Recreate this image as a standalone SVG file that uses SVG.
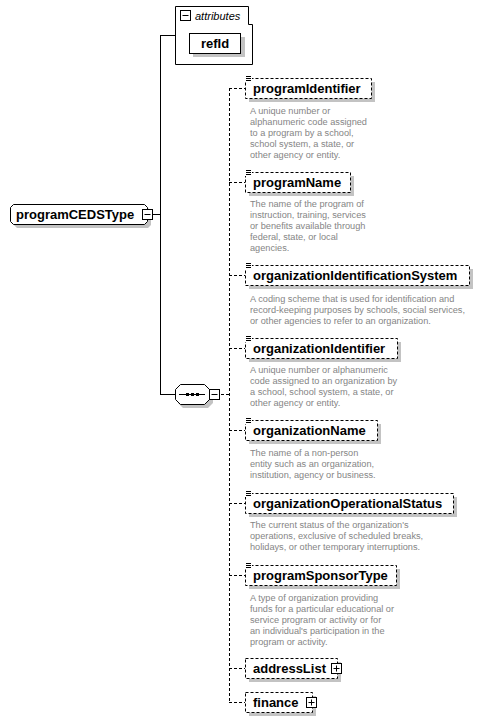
<svg xmlns="http://www.w3.org/2000/svg" width="483" height="721" viewBox="0 0 483 721">
<style>
.bg{fill:#fff}
.sh{fill:#c3c3c3}
.box{fill:#fff;stroke:#000;stroke-width:1}
.dbox{fill:#fff;stroke:#000;stroke-width:1;stroke-dasharray:3,2}
.ln{fill:none;stroke:#000;stroke-width:1}
.dl{fill:none;stroke:#000;stroke-width:1;stroke-dasharray:3,2}
.nm{font-family:"Liberation Sans",Arial,sans-serif;font-weight:bold;font-size:13px;fill:#000}
.ds{font-family:"Liberation Sans",Arial,sans-serif;font-size:9.2px;fill:#858585}
.it{font-family:"Liberation Sans",Arial,sans-serif;font-style:italic;font-size:11px;fill:#000}
</style>
<defs>
<g id="minus"><rect x="1" y="1" width="10" height="10" fill="#000"/><rect x="0.5" y="0.5" width="10" height="10" class="box"/><path d="M2.5,5.5H8.5" class="ln"/></g>
<g id="plus"><rect x="1" y="1" width="10" height="10" fill="#000"/><rect x="0.5" y="0.5" width="10" height="10" class="box"/><path d="M2.5,5.5H8.5M5.5,2.5V8.5" class="ln"/></g>
<g id="elicon"><rect x="0" y="0" width="7" height="7" fill="#fff"/><path d="M1,1.5H6M1,3.5H6M1,5.5H6" class="ln"/></g>
</defs>
<rect width="483" height="721" class="bg"/>

<g id="connectors">
<path d="M160.5,35V394.5" class="ln"/>
<path d="M160,35.5H175" class="ln"/>
<path d="M153,214.5H160" class="ln"/>
<path d="M160,394.5H175" class="ln"/>
<path d="M221,394.5H229" class="dl"/>
<path d="M229.5,88V702" class="dl"/>
<path d="M229,88.5H245" class="dl"/>
<path d="M229,182.5H245" class="dl"/>
<path d="M229,275.5H245" class="dl"/>
<path d="M229,348.5H245" class="dl"/>
<path d="M229,430.5H245" class="dl"/>
<path d="M229,503.5H245" class="dl"/>
<path d="M229,575.5H245" class="dl"/>
<path d="M229,668.5H245" class="dl"/>
<path d="M229,702.5H245" class="dl"/>
</g>

<g id="attributes">
<path d="M175.5,6.5H248.5V24.5H252.5V64.5H175.5Z" class="box"/>
<use href="#minus" x="180" y="10"/>
<text x="195" y="20" class="it">attributes</text>
</g>
<g id="refId">
<rect x="193" y="37" width="52" height="20" class="sh"/>
<rect x="189.5" y="33.5" width="51" height="20" class="box"/>
<text x="215" y="48" class="nm" text-anchor="middle">refId</text>
</g>

<g id="programCEDSType">
<path d="M17,208H148L151,211V225L148,228H17L14,225V211Z" class="sh"/>
<path d="M13.5,204.5H144.5L147.5,207.5V221.5L144.5,224.5H13.5L10.5,221.5V207.5Z" class="box"/>
<text x="16" y="219" class="nm">programCEDSType</text>
<use href="#minus" x="142" y="209"/>
</g>

<g id="sequence">
<path d="M183,388H208L213,393V403L208,408H183L178,403V393Z" class="sh"/>
<path d="M180.5,384.5H204.5L209.5,389.5V399.5L204.5,404.5H180.5L175.5,399.5V389.5Z" class="box"/>
<path d="M179,394.5H205" class="ln"/>
<path d="M186,393h3v3h-3zM191,393h3v3h-3zM196,393h3v3h-3z" fill="#000"/>
<use href="#minus" x="209" y="389"/>
</g>

<g id="programIdentifier">
<rect x="249" y="82" width="126" height="20" class="sh"/>
<rect x="245.5" y="78.5" width="126" height="20" class="dbox"/>
<use href="#elicon" x="245" y="75"/>
<text x="253" y="93" class="nm">programIdentifier</text>
<text class="ds"><tspan x="250" y="114">A unique number or</tspan><tspan x="250" y="125">alphanumeric code assigned</tspan><tspan x="250" y="136">to a program by a school,</tspan><tspan x="250" y="147">school system, a state, or</tspan><tspan x="250" y="158">other agency or entity.</tspan></text>
</g>

<g id="programName">
<rect x="249" y="176" width="105" height="20" class="sh"/>
<rect x="245.5" y="172.5" width="105" height="20" class="dbox"/>
<use href="#elicon" x="245" y="169"/>
<text x="253" y="187" class="nm">programName</text>
<text class="ds"><tspan x="250" y="207">The name of the program of</tspan><tspan x="250" y="218">instruction, training, services</tspan><tspan x="250" y="229">or benefits available through</tspan><tspan x="250" y="240">federal, state, or local</tspan><tspan x="250" y="251">agencies.</tspan></text>
</g>

<g id="organizationIdentificationSystem">
<rect x="249" y="269" width="224" height="20" class="sh"/>
<rect x="245.5" y="265.5" width="224" height="20" class="dbox"/>
<use href="#elicon" x="245" y="262"/>
<text x="253" y="280" class="nm">organizationIdentificationSystem</text>
<text class="ds"><tspan x="250" y="301.5">A coding scheme that is used for identification and</tspan><tspan x="250" y="312.5">record-keeping purposes by schools, social services,</tspan><tspan x="250" y="323.5">or other agencies to refer to an organization.</tspan></text>
</g>

<g id="organizationIdentifier">
<rect x="249" y="342" width="152" height="20" class="sh"/>
<rect x="245.5" y="338.5" width="152" height="20" class="dbox"/>
<use href="#elicon" x="245" y="335"/>
<text x="253" y="353" class="nm">organizationIdentifier</text>
<text class="ds"><tspan x="250" y="372.5">A unique number or alphanumeric</tspan><tspan x="250" y="383.5">code assigned to an organization by</tspan><tspan x="250" y="394.5">a school, school system, a state, or</tspan><tspan x="250" y="405.5">other agency or entity.</tspan></text>
</g>

<g id="organizationName">
<rect x="249" y="424" width="132" height="20" class="sh"/>
<rect x="245.5" y="420.5" width="132" height="20" class="dbox"/>
<use href="#elicon" x="245" y="417"/>
<text x="253" y="435" class="nm">organizationName</text>
<text class="ds"><tspan x="250" y="455.5">The name of a non-person</tspan><tspan x="250" y="466.5">entity such as an organization,</tspan><tspan x="250" y="477.5">institution, agency or business.</tspan></text>
</g>

<g id="organizationOperationalStatus">
<rect x="249" y="497" width="208" height="20" class="sh"/>
<rect x="245.5" y="493.5" width="208" height="20" class="dbox"/>
<use href="#elicon" x="245" y="490"/>
<text x="253" y="508" class="nm">organizationOperationalStatus</text>
<text class="ds"><tspan x="250" y="527.5">The current status of the organization's</tspan><tspan x="250" y="538.5">operations, exclusive of scheduled breaks,</tspan><tspan x="250" y="549.5">holidays, or other temporary interruptions.</tspan></text>
</g>

<g id="programSponsorType">
<rect x="249" y="569" width="151" height="20" class="sh"/>
<rect x="245.5" y="565.5" width="151" height="20" class="dbox"/>
<use href="#elicon" x="245" y="562"/>
<text x="253" y="580" class="nm">programSponsorType</text>
<text class="ds"><tspan x="250" y="600.5">A type of organization providing</tspan><tspan x="250" y="611.5">funds for a particular educational or</tspan><tspan x="250" y="622.5">service program or activity or for</tspan><tspan x="250" y="633.5">an individual's participation in the</tspan><tspan x="250" y="644.5">program or activity.</tspan></text>
</g>

<g id="addressList">
<rect x="249" y="662" width="92" height="20" class="sh"/>
<rect x="245.5" y="658.5" width="92" height="20" class="dbox"/>
<text x="253" y="673" class="nm">addressList</text>
<use href="#plus" x="331" y="663"/>
</g>

<g id="finance">
<rect x="249" y="696" width="67" height="20" class="sh"/>
<rect x="245.5" y="692.5" width="67" height="20" class="dbox"/>
<text x="253" y="707" class="nm">finance</text>
<use href="#plus" x="306" y="697"/>
</g>
</svg>
